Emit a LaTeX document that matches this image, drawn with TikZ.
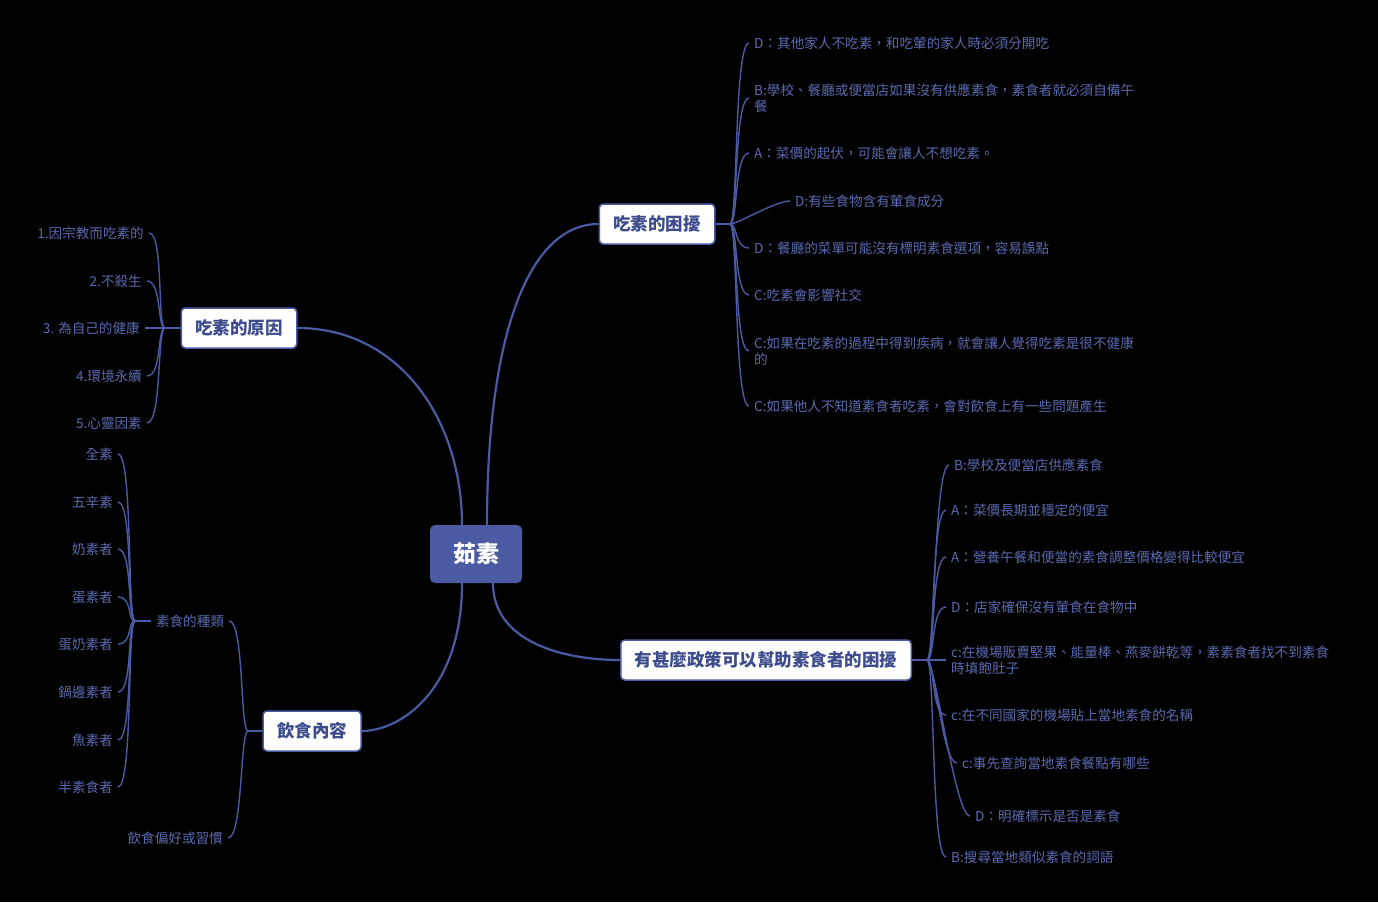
\documentclass[tikz,border=0pt]{standalone}
\usepackage{fontspec}
\setmainfont{Noto Sans CJK TC}
\usepackage{xcolor}
\usepackage{tikz}
\usetikzlibrary{calc}
\definecolor{MapBlue}{HTML}{4B5BA3}
\definecolor{LeafBlue}{HTML}{5A6AB0}
\definecolor{TopicInk}{HTML}{3D4C8C}

\begin{document}
\begin{tikzpicture}[x=1pt,y=-1pt,
  hubbox/.style={rectangle,rounded corners=5pt,fill=MapBlue,text=white,
              minimum width=92pt,minimum height=58pt,
              font=\fontsize{23}{27}\selectfont\bfseries},
  topicbox/.style={rectangle,rounded corners=4pt,draw=MapBlue,line width=1.5pt,
              fill=white,text=TopicInk,minimum height=40pt,inner xsep=14pt,
              font=\fontsize{17.5}{21}\selectfont\bfseries},
  leaftext/.style={inner xsep=5pt,inner ysep=1pt,text=LeafBlue,align=left,
              font=\fontsize{13.6}{16}\selectfont},
  mainline/.style={MapBlue,line width=2.2pt},
  twigline/.style={MapBlue,line width=1.4pt},
  rtwig/.style={twigline,out=0,in=180,out distance=8pt,in distance=15pt},
  ltwig/.style={twigline,out=180,in=0,out distance=8pt,in distance=15pt}]
\fill[black] (0,0) rectangle (1378,902);
% centre and main topics
\node[hubbox] (hub) at (476,554) {茹素};
\node[topicbox] (worry) at (657,224) {吃素的困擾};
\node[topicbox] (reason) at (239,328) {吃素的原因};
\node[topicbox] (diet) at (312,731) {飲食內容};
\node[topicbox] (policy) at (766,660) {有甚麼政策可以幫助素食者的困擾};
\draw[mainline] ([xshift=11pt]hub.north) .. controls +(0,-195) and +(-68,0) .. (worry.west);
\draw[mainline] ([xshift=-14pt]hub.north) .. controls +(0,-105) and +(102,0) .. (reason.east);
\draw[mainline] ([xshift=-14pt]hub.south) .. controls +(0,107) and +(39,0) .. (diet.east);
\draw[mainline] ([xshift=17pt]hub.south) .. controls +(0,57) and +(-60,0) .. (policy.west);
% worries
\node[leaftext,anchor=west] (w1) at (749,43) {D：其他家人不吃素，和吃葷的家人時必須分開吃};
\node[leaftext,anchor=west] (w2) at (749,98) {B:學校、餐廳或便當店如果沒有供應素食，素食者就必須自備午\\餐};
\node[leaftext,anchor=west] (w3) at (749,153) {A：菜價的起伏，可能會讓人不想吃素。};
\node[leaftext,anchor=west] (w4) at (790,201) {D:有些食物含有葷食成分};
\node[leaftext,anchor=west] (w5) at (749,248) {D：餐廳的菜單可能沒有標明素食選項，容易誤點};
\node[leaftext,anchor=west] (w6) at (749,295) {C:吃素會影響社交};
\node[leaftext,anchor=west] (w7) at (749,351) {C:如果在吃素的過程中得到疾病，就會讓人覺得吃素是很不健康\\的};
\node[leaftext,anchor=west] (w8) at (749,406) {C:如果他人不知道素食者吃素，會對飲食上有一些問題產生};
\coordinate (worryfork) at (730,224);
\draw[twigline] (worry.east) -- (worryfork);
\foreach \n in {w1,w2,w3,w4,w5,w6,w7,w8}
  \draw[rtwig] (worryfork) to (\n.west);
% reasons
\node[leaftext,anchor=east] (r1) at (149,233) {1.因宗教而吃素的};
\node[leaftext,anchor=east] (r2) at (147,281) {2.不殺生};
\node[leaftext,anchor=east] (r3) at (145,328) {3. 為自己的健康};
\node[leaftext,anchor=east] (r4) at (147,376) {4.環境永續};
\node[leaftext,anchor=east] (r5) at (147,423) {5.心靈因素};
\coordinate (reasonfork) at (165,328);
\draw[twigline] (reason.west) -- (reasonfork);
\foreach \n in {r1,r2,r3,r4,r5}
  \draw[ltwig] (reasonfork) to (\n.east);
% diet
\node[leaftext] (kinds) at (190,621) {素食的種類};
\node[leaftext,anchor=east] (habit) at (228,838) {飲食偏好或習慣};
\coordinate (dietfork) at (248,731);
\draw[twigline] (diet.west) -- (dietfork);
\draw[ltwig] (dietfork) to (kinds.east);
\draw[ltwig] (dietfork) to (habit.east);
\node[leaftext,anchor=east] (k1) at (118,454) {全素};
\node[leaftext,anchor=east] (k2) at (118,502) {五辛素};
\node[leaftext,anchor=east] (k3) at (118,549) {奶素者};
\node[leaftext,anchor=east] (k4) at (118,597) {蛋素者};
\node[leaftext,anchor=east] (k5) at (118,644) {蛋奶素者};
\node[leaftext,anchor=east] (k6) at (118,692) {鍋邊素者};
\node[leaftext,anchor=east] (k7) at (118,740) {魚素者};
\node[leaftext,anchor=east] (k8) at (118,787) {半素食者};
\coordinate (kindsfork) at (135,621);
\draw[twigline] (kinds.west) -- (kindsfork);
\foreach \n in {k1,k2,k3,k4,k5,k6,k7,k8}
  \draw[ltwig] (kindsfork) to (\n.east);
% policies
\node[leaftext,anchor=west] (p1) at (949,465) {B:學校及便當店供應素食};
\node[leaftext,anchor=west] (p2) at (946,510) {A：菜價長期並穩定的便宜};
\node[leaftext,anchor=west] (p3) at (946,557) {A：營養午餐和便當的素食調整價格變得比較便宜};
\node[leaftext,anchor=west] (p4) at (946,607) {D：店家確保沒有葷食在食物中};
\node[leaftext,anchor=west] (p5) at (946,660) {c:在機場販賣堅果、能量棒、燕麥餅乾等，素素食者找不到素食\\時填飽肚子};
\node[leaftext,anchor=west] (p6) at (946,715) {c:在不同國家的機場貼上當地素食的名稱};
\node[leaftext,anchor=west] (p7) at (957,763) {c:事先查詢當地素食餐點有哪些};
\node[leaftext,anchor=west] (p8) at (970,816) {D：明確標示是否是素食};
\node[leaftext,anchor=west] (p9) at (946,857) {B:搜尋當地類似素食的詞語};
\coordinate (policyfork) at (927,660);
\draw[twigline] (policy.east) -- (policyfork);
\foreach \n in {p1,p2,p3,p4,p5,p6,p7,p8,p9}
  \draw[rtwig] (policyfork) to (\n.west);
\end{tikzpicture}
\end{document}
